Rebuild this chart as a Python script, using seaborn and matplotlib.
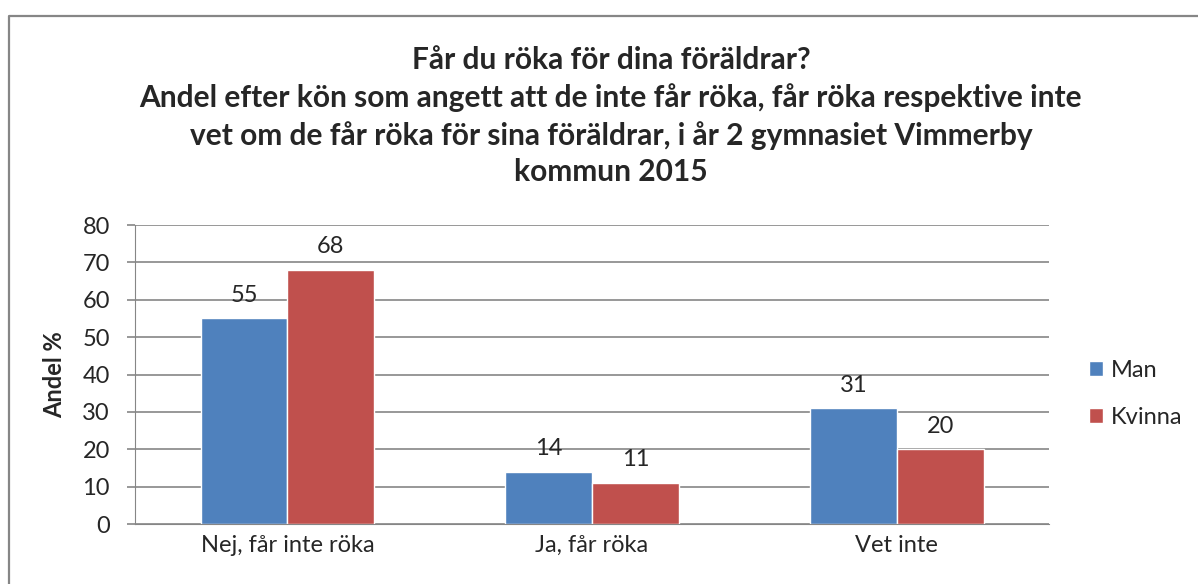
import pandas as pd
import matplotlib.pyplot as plt
import seaborn as sns
from matplotlib.lines import Line2D

categories = ['Nej, får inte röka', 'Ja, får röka', 'Vet inte']
man = [55, 14, 31]
kvinna = [68, 11, 20]
series = ['Man', 'Kvinna']
colors = ['#4F81BD', '#C0504D']
title = ('Får du röka för dina föräldrar?\n'
         'Andel efter kön som angett att de inte får röka, får röka respektive inte\n'
         'vet om de får röka för sina föräldrar, i år 2 gymnasiet Vimmerby\n'
         'kommun 2015')

df = pd.DataFrame({
    'kategori': categories * 2,
    'kon': ['Man'] * 3 + ['Kvinna'] * 3,
    'andel': man + kvinna,
})

sns.set_style('white')
plt.rcParams['font.family'] = ['Lato', 'DejaVu Sans']

fig = plt.figure(figsize=(11.98, 5.84), dpi=100)
ax = fig.add_axes([0.1127, 0.1027, 0.763, 0.512])
sns.barplot(data=df, x='kategori', y='andel', hue='kon', hue_order=series,
            palette=colors, width=0.57, ax=ax, saturation=1, errorbar=None)

for cont in ax.containers:
    ax.bar_label(cont, padding=9, fontsize=17)

ax.set_ylim(0, 80)
ax.set_yticks(range(0, 81, 10))
ax.yaxis.grid(True, color='#868686', linewidth=1.2)
ax.set_axisbelow(True)
for s in ['top', 'right']:
    ax.spines[s].set_visible(False)
ax.spines['left'].set_color('#868686')
ax.spines['bottom'].set_color('#868686')
ax.tick_params(axis='both', labelsize=17, length=0, pad=8)
ax.tick_params(axis='y', length=6, width=1.2, color='#868686', direction='out',
               left=True, pad=12)
ax.set_xlabel('')
ax.set_ylabel('Andel %', fontsize=17, fontweight='bold', labelpad=12)

ax.legend(loc='center left', bbox_to_anchor=(1.02, 0.435), frameon=False,
          fontsize=17, handlelength=0.6, handleheight=0.6, handletextpad=0.35,
          labelspacing=1.1)

fig.text(0.51, 1 - 116 / 584, title, ha='center', va='center', fontsize=21.5,
         fontweight='bold', linespacing=1.38)

# chart frame: only top and left edges are visible in the crop
bx, by = 9 / 1198, 1 - 16 / 584
fig.add_artist(Line2D([bx, bx, 1.0], [0.0, by, by], transform=fig.transFigure,
                      color='#868686', linewidth=1.6))

fig.savefig('out.png', dpi=100)
